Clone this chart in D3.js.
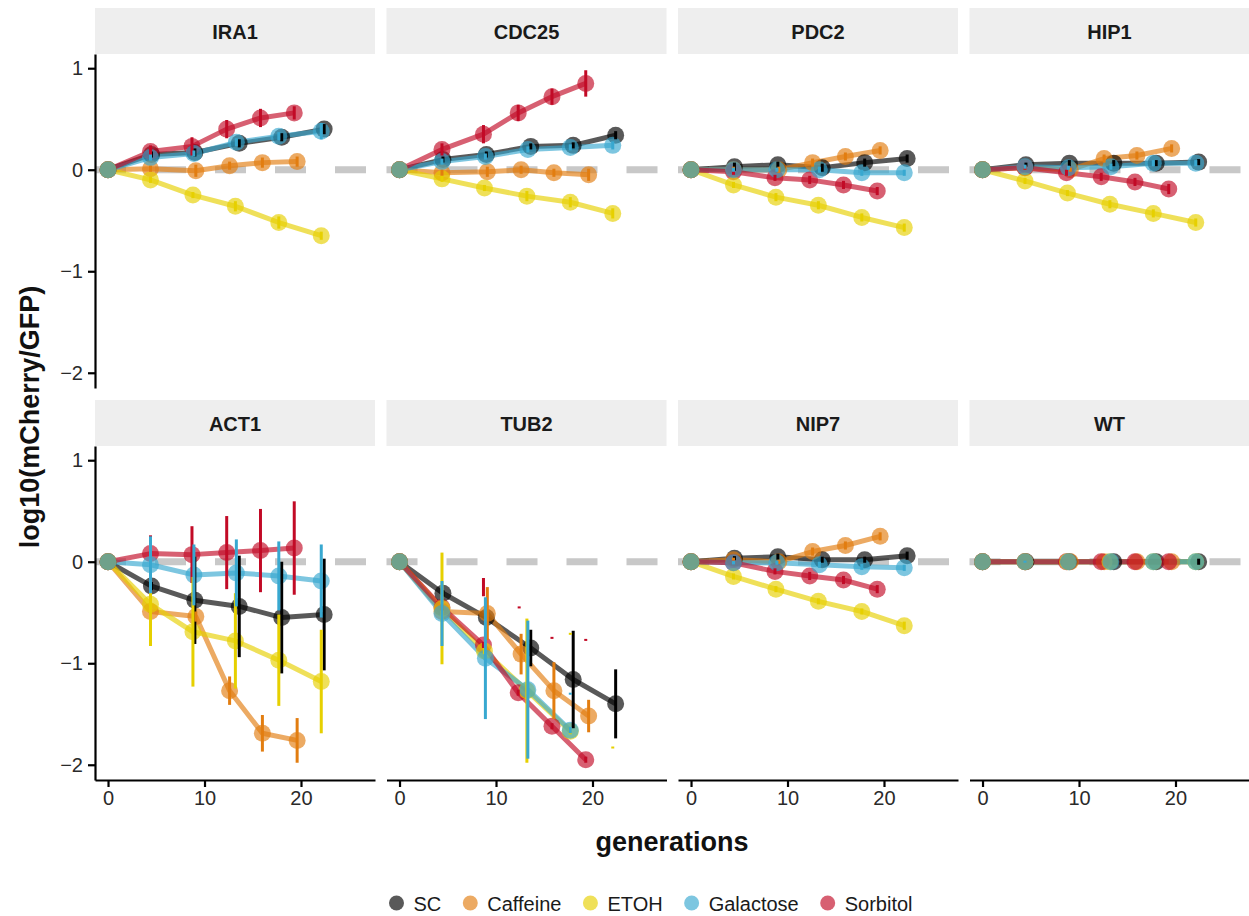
<!DOCTYPE html>
<html>
<head>
<meta charset="utf-8">
<script src="https://cdn.jsdelivr.net/npm/d3@7"></script>
<style>
  body { margin: 0; background: #fff; }
  svg { font-family: "Liberation Sans", Arial, sans-serif; }
</style>
</head>
<body>
<svg id="chart" width="1249" height="916"></svg>
<script>
// conditions and facet order
const conditions = ["SC", "Caffeine", "ETOH", "Galactose", "Sorbitol"];
const condColors = ["#000000", "#E27D10", "#E6D000", "#38A8D0", "#C20A26"];
const genes = ["IRA1", "CDC25", "PDC2", "HIP1", "ACT1", "TUB2", "NIP7", "WT"];
// row order in which points / error bars are stacked (lines follow legend order)
const pointOrder = [0, 1, 4, 2, 3];

// sampling times (generations) per condition
const genSC        = [0, 4.5, 9.0, 13.6, 18.0, 22.4];
const genCaffeine  = [0, 4.4, 9.1, 12.6, 16.0, 19.6];
const genETOH      = [0, 4.4, 8.8, 13.2, 17.7, 22.1];
const genGalactose = [0, 4.4, 8.9, 13.3, 17.7, 22.1];
const genSorbitol  = [0, 4.4, 8.7, 12.3, 15.8, 19.3];
const generations = [genSC, genCaffeine, genETOH, genGalactose, genSorbitol];

// log10(mCherry/GFP), one row per condition (SC, Caffeine, ETOH, Galactose, Sorbitol)
const vIRA1 = [
  [0, 0.15, 0.17, 0.26, 0.32, 0.40],
  [0, 0.01, -0.01, 0.04, 0.07, 0.08],
  [0, -0.10, -0.25, -0.36, -0.52, -0.65],
  [0, 0.12, 0.16, 0.27, 0.33, 0.38],
  [0, 0.18, 0.23, 0.40, 0.51, 0.56]
];
const eIRA1 = [
  [0, 0.03, 0.04, 0.04, 0.04, 0.05],
  [0, 0.03, 0.06, 0.04, 0.05, 0.05],
  [0, 0.03, 0.03, 0.05, 0.06, 0.04],
  [0, 0.03, 0.03, 0.04, 0.04, 0.08],
  [0, 0.06, 0.09, 0.09, 0.09, 0.065]
];
const vCDC25 = [
  [0, 0.10, 0.15, 0.23, 0.24, 0.34],
  [0, -0.03, -0.02, 0.00, -0.03, -0.05],
  [0, -0.09, -0.18, -0.26, -0.32, -0.43],
  [0, 0.08, 0.13, 0.20, 0.22, 0.24],
  [0, 0.20, 0.35, 0.56, 0.72, 0.85]
];
const eCDC25 = [
  [0, 0.03, 0.03, 0.03, 0.03, 0.04],
  [0, 0.03, 0.05, 0.04, 0.04, 0.06],
  [0, 0.03, 0.03, 0.05, 0.05, 0.05],
  [0, 0.03, 0.03, 0.03, 0.03, 0.04],
  [0, 0.06, 0.09, 0.08, 0.08, 0.13]
];
const vPDC2 = [
  [0, 0.03, 0.05, 0.02, 0.07, 0.11],
  [0, 0.00, 0.00, 0.07, 0.13, 0.19],
  [0, -0.15, -0.27, -0.35, -0.47, -0.57],
  [0, 0.00, 0.00, 0.00, -0.03, -0.03],
  [0, -0.02, -0.08, -0.10, -0.15, -0.21]
];
const ePDC2 = [
  [0, 0.04, 0.03, 0.04, 0.04, 0.04],
  [0, 0.03, 0.03, 0.04, 0.04, 0.04],
  [0, 0.03, 0.04, 0.04, 0.04, 0.04],
  [0, 0.02, 0.02, 0.03, 0.03, 0.03],
  [0, 0.03, 0.03, 0.04, 0.04, 0.04]
];
const vHIP1 = [
  [0, 0.05, 0.065, 0.065, 0.065, 0.075],
  [0, 0.02, 0.00, 0.11, 0.14, 0.21],
  [0, -0.11, -0.23, -0.34, -0.43, -0.52],
  [0, 0.03, 0.02, 0.03, 0.065, 0.065],
  [0, 0.02, -0.03, -0.07, -0.12, -0.19]
];
const eHIP1 = [
  [0, 0.02, 0.03, 0.03, 0.03, 0.03],
  [0, 0.02, 0.02, 0.04, 0.04, 0.04],
  [0, 0.03, 0.03, 0.04, 0.04, 0.04],
  [0, 0.02, 0.02, 0.03, 0.03, 0.03],
  [0, 0.02, 0.03, 0.04, 0.04, 0.05]
];
const vACT1 = [
  [0, -0.24, -0.38, -0.44, -0.55, -0.52],
  [0, -0.49, -0.54, -1.27, -1.69, -1.76],
  [0, -0.42, -0.69, -0.78, -0.97, -1.18],
  [0, -0.03, -0.13, -0.11, -0.14, -0.19],
  [0, 0.08, 0.07, 0.09, 0.11, 0.135]
];
const eACT1 = [
  [0, 0.04, 0.43, 0.50, 0.55, 0.55],
  [0, 0.05, 0.05, 0.14, 0.18, 0.22],
  [0, 0.41, 0.54, 0.47, 0.45, 0.51],
  [0, 0.28, 0.30, 0.33, 0.34, 0.36],
  [0, 0.18, 0.28, 0.36, 0.41, 0.46]
];
const vTUB2 = [
  [0, -0.31, -0.55, -0.85, -1.16, -1.40],
  [0, -0.49, -0.51, -0.91, -1.27, -1.52],
  [0, -0.46, -0.88, -1.27, -1.67],
  [0, -0.51, -0.95, -1.26, -1.66],
  [0, -0.45, -0.82, -1.29, -1.62, -1.95]
];
const eTUB2 = [
  [0, 0.03, 0.16, 0.18, 0.48, 0.34],
  [0, 0.03, 0.26, 0.20, 0.28, 0.16],
  [0, 0.55, 0.03, 0.71, 0.03],
  [0, 0.32, 0.60, 0.68, 0.03],
  [0, 0.03, 0.03, 0.03, 0.03, 0.03]
];
// TUB2 error bars that sit apart from their points: [condition, generation, ymin, ymax]
const strayTUB2 = [
  [4, 8.7, -0.34, -0.16],
  [4, 12.4, -0.46, -0.44],
  [4, 15.8, -0.76, -0.74],
  [4, 19.3, -0.78, -0.76],
  [2, 17.7, -0.72, -0.70],
  [2, 22.1, -1.84, -1.82],
  [3, 17.7, -1.31, -1.29]
];
const vNIP7 = [
  [0, 0.035, 0.05, 0.02, 0.02, 0.06],
  [0, 0.02, 0.00, 0.10, 0.16, 0.25],
  [0, -0.145, -0.27, -0.39, -0.49, -0.63],
  [0, -0.01, -0.01, -0.03, -0.05, -0.06],
  [0, -0.01, -0.095, -0.14, -0.18, -0.27]
];
const eNIP7 = [
  [0, 0.02, 0.03, 0.03, 0.03, 0.04],
  [0, 0.02, 0.02, 0.04, 0.04, 0.04],
  [0, 0.03, 0.03, 0.03, 0.03, 0.04],
  [0, 0.02, 0.02, 0.03, 0.03, 0.03],
  [0, 0.02, 0.03, 0.04, 0.04, 0.04]
];
const vWT = [
  [0, 0, 0, 0, 0, 0],
  [0, 0, 0, 0, 0, 0],
  [0, 0, 0, 0, 0, 0],
  [0, 0, 0, 0, 0, 0],
  [0, 0, 0, 0, 0, 0]
];
const eWT = [
  [0, 0, 0, 0, 0, 0.03],
  [0, 0, 0, 0, 0, 0],
  [0, 0, 0, 0, 0, 0],
  [0, 0.01, 0, 0, 0, 0],
  [0, 0, 0, 0, 0, 0]
];
const geneValues = [vIRA1, vCDC25, vPDC2, vHIP1, vACT1, vTUB2, vNIP7, vWT];
const geneErrors = [eIRA1, eCDC25, ePDC2, eHIP1, eACT1, eTUB2, eNIP7, eWT];
const geneStrays = { TUB2: strayTUB2 };

const yTicks = [1, 0, -1, -2];
const xTicks = [0, 10, 20];

// layout
const panelW = 280, panelH = 334, stripH = 46;
const colLeft = c => 95 + c * 291.5;
const rowTop = r => 54 + r * 392;

const svg = d3.select("#chart");

const x = d3.scaleLinear().domain([-1.35, 27.67]).range([0, panelW]);
const y = d3.scaleLinear().domain([-2.15, 1.14]).range([panelH, 0]);
const color = d3.scaleOrdinal().domain(conditions).range(condColors);

const line = d3.line().x(d => x(d.g)).y(d => y(d.v));

genes.forEach((gene, gi) => {
    const col = gi % 4, row = Math.floor(gi / 4);
    const g = svg.append("g")
        .attr("transform", `translate(${colLeft(col)},${rowTop(row)})`);

    // strip
    g.append("rect")
        .attr("x", 0).attr("y", -stripH)
        .attr("width", panelW).attr("height", stripH)
        .attr("fill", "#eeeeee");
    g.append("text")
        .attr("x", panelW / 2).attr("y", -stripH / 2 + 1)
        .attr("text-anchor", "middle")
        .attr("dominant-baseline", "central")
        .attr("font-size", "20px")
        .attr("font-weight", "bold")
        .attr("fill", "#1a1a1a")
        .text(gene);

    // reference line at 0
    g.append("line")
        .attr("x1", 0).attr("x2", panelW)
        .attr("y1", y(0)).attr("y2", y(0))
        .attr("stroke", "#c8c8c8")
        .attr("stroke-width", 7)
        .attr("stroke-dasharray", "31,29");

    const series = conditions.map((c, ci) => geneValues[gi][ci].map((v, k) => ({
        cond: c, g: generations[ci][k], v: v, e: geneErrors[gi][ci][k]
    })));
    const stacked = pointOrder.map(ci => series[ci]).flat();

    // lines
    g.selectAll(".ln")
        .data(series)
        .enter()
        .append("path")
        .attr("d", line)
        .attr("fill", "none")
        .attr("stroke", d => color(d[0].cond))
        .attr("stroke-width", 5)
        .attr("stroke-opacity", 0.65)
        .attr("stroke-linejoin", "round");

    // points
    g.selectAll(".pt")
        .data(stacked)
        .enter()
        .append("circle")
        .attr("cx", d => x(d.g))
        .attr("cy", d => y(d.v))
        .attr("r", 8.5)
        .attr("fill", d => color(d.cond))
        .attr("fill-opacity", 0.65);

    // error bars
    const bars = stacked.filter(d => d.e > 0)
        .map(d => ({ cond: d.cond, g: d.g, lo: d.v - d.e, hi: d.v + d.e }));
    (geneStrays[gene] || []).forEach(s => bars.push({
        cond: conditions[s[0]], g: s[1], lo: s[2], hi: s[3]
    }));
    g.selectAll(".eb")
        .data(bars)
        .enter()
        .append("line")
        .attr("x1", d => x(d.g)).attr("x2", d => x(d.g))
        .attr("y1", d => y(d.lo)).attr("y2", d => y(d.hi))
        .attr("stroke", d => color(d.cond))
        .attr("stroke-width", 3);

    // axes
    if (col === 0) {
        const ax = g.append("g")
            .call(d3.axisLeft(y).tickValues(yTicks).tickFormat(d3.format("d"))
                .tickSize(7).tickSizeOuter(0).tickPadding(5));
        ax.select(".domain").attr("stroke-width", 2.2);
        ax.selectAll(".tick line").attr("stroke-width", 2.2);
        ax.selectAll(".tick text")
            .attr("font-size", "20px")
            .attr("font-family", "Liberation Sans, Arial, sans-serif")
            .attr("fill", "#2a2a2a");
    }
    if (row === 1) {
        const ax = g.append("g")
            .attr("transform", `translate(0,${panelH})`)
            .call(d3.axisBottom(x).tickValues(xTicks).tickFormat(d3.format("d"))
                .tickSize(7).tickSizeOuter(0).tickPadding(4));
        ax.select(".domain").attr("stroke-width", 2.2);
        ax.selectAll(".tick line").attr("stroke-width", 2.2);
        ax.selectAll(".tick text")
            .attr("font-size", "20px")
            .attr("font-family", "Liberation Sans, Arial, sans-serif")
            .attr("fill", "#2a2a2a");
    }
});

// axis titles
svg.append("text")
    .attr("transform", "translate(30,417) rotate(-90)")
    .attr("text-anchor", "middle")
    .attr("dominant-baseline", "central")
    .attr("font-size", "27px")
    .attr("font-weight", "bold")
    .attr("fill", "#111")
    .text("log10(mCherry/GFP)");

svg.append("text")
    .attr("x", 672).attr("y", 842)
    .attr("text-anchor", "middle")
    .attr("dominant-baseline", "central")
    .attr("font-size", "27px")
    .attr("font-weight", "bold")
    .attr("fill", "#111")
    .text("generations");

// legend
const legend = svg.append("g");
let lx = 0;
conditions.forEach(c => {
    const item = legend.append("g").attr("transform", `translate(${lx},0)`);
    item.append("circle")
        .attr("cx", 7).attr("cy", 0).attr("r", 7.5)
        .attr("fill", color(c)).attr("fill-opacity", 0.65);
    const t = item.append("text")
        .attr("x", 24).attr("y", 1)
        .attr("dominant-baseline", "central")
        .attr("font-size", "20px")
        .attr("fill", "#1a1a1a")
        .text(c);
    lx += 24 + t.node().getComputedTextLength() + 22;
});
const legendW = lx - 22;
legend.attr("transform", `translate(${651 - legendW / 2},903)`);
</script>
</body>
</html>
